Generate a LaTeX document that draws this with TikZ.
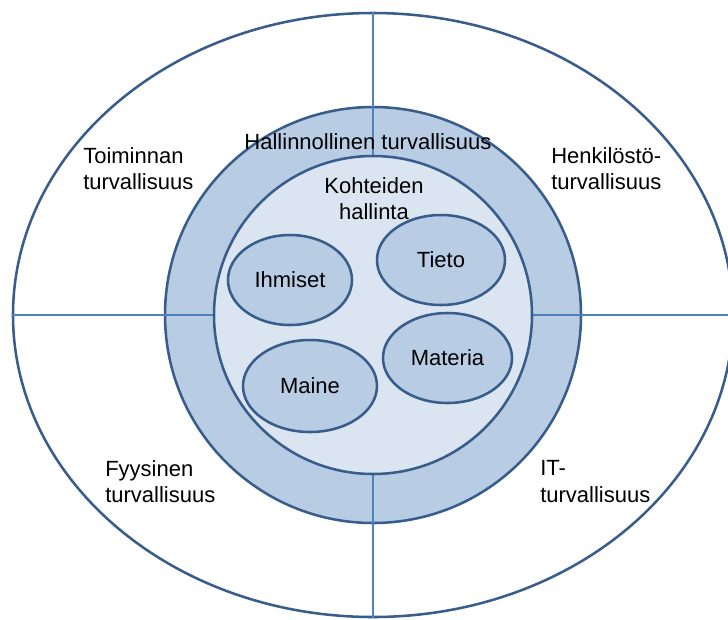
\documentclass[tikz,border=0pt]{standalone}
\usepackage{fontspec}
\setmainfont{Liberation Sans}
\usetikzlibrary{shapes.geometric}
\pgfdeclarelayer{back}
\pgfdeclarelayer{mid}
\pgfsetlayers{back,mid,main}
\definecolor{rimblue}{RGB}{56,93,138}
\definecolor{lineblue}{RGB}{79,129,189}
\definecolor{bandfill}{RGB}{184,204,228}
\definecolor{corefill}{RGB}{219,229,241}
\begin{document}
\begin{tikzpicture}[x=0.75pt,y=-0.75pt,
  every node/.style={font=\fontsize{16.5}{20}\selectfont, text=black},
  rim/.style={draw=rimblue, line width=1.9pt},
  divider/.style={draw=lineblue, line width=1.7pt},
  ring/.style={rim, circle, inner sep=0pt},
  item/.style={rim, ellipse, fill=bandfill, inner sep=0pt},
  label/.style={inner sep=0pt, align=left, anchor=north west}]
\useasboundingbox (0,0) rectangle (728,619);

% white page, outer ellipse and the ring of administrative security
\begin{pgfonlayer}{back}
  \fill[white] (0,0) rectangle (728,619);
  \node[rim, ellipse, fill=white, minimum width=540pt, minimum height=453pt] (outer) at (373,315) {};
  \node[ring, fill=bandfill, minimum size=312pt] (band) at (373,315) {};
\end{pgfonlayer}

% inner circle: asset management
\node[ring, fill=corefill, minimum size=238.5pt] (core) at (373,315) {};

% quadrant dividers, running under the inner circle
\begin{pgfonlayer}{mid}
  \draw[divider] (outer.north) -- (core.north);
  \draw[divider] (outer.south) -- (core.south);
  \draw[divider] (outer.west) -- (core.west);
  \draw[divider] (outer.east) -- (core.east);
\end{pgfonlayer}

% assets
\node[item, minimum width=93pt, minimum height=67.5pt] (ihmiset) at (290,280) {Ihmiset};
\node[item, minimum width=96pt, minimum height=67.5pt] (tieto) at (441,260) {Tieto};
\node[item, minimum width=96.75pt, minimum height=67.5pt] (materia) at (447.5,358) {Materia};
\node[item, minimum width=100.5pt, minimum height=69pt] (maine) at (310,386) {Maine};

% labels
\node[inner sep=0pt, anchor=north] (hallinto) at (368,133) {Hallinnollinen turvallisuus};
\node[inner sep=0pt, anchor=north, align=center] (kohteet) at (374,177) {Kohteiden\\hallinta};
\node[label] (toiminta) at (83,147) {Toiminnan\\turvallisuus};
\node[label] (henkilosto) at (551,147) {Henkilöstö-\\turvallisuus};
\node[label] (fyysinen) at (105,460) {Fyysinen\\turvallisuus};
\node[label] (it) at (540,460) {IT-\\turvallisuus};
\end{tikzpicture}
\end{document}
